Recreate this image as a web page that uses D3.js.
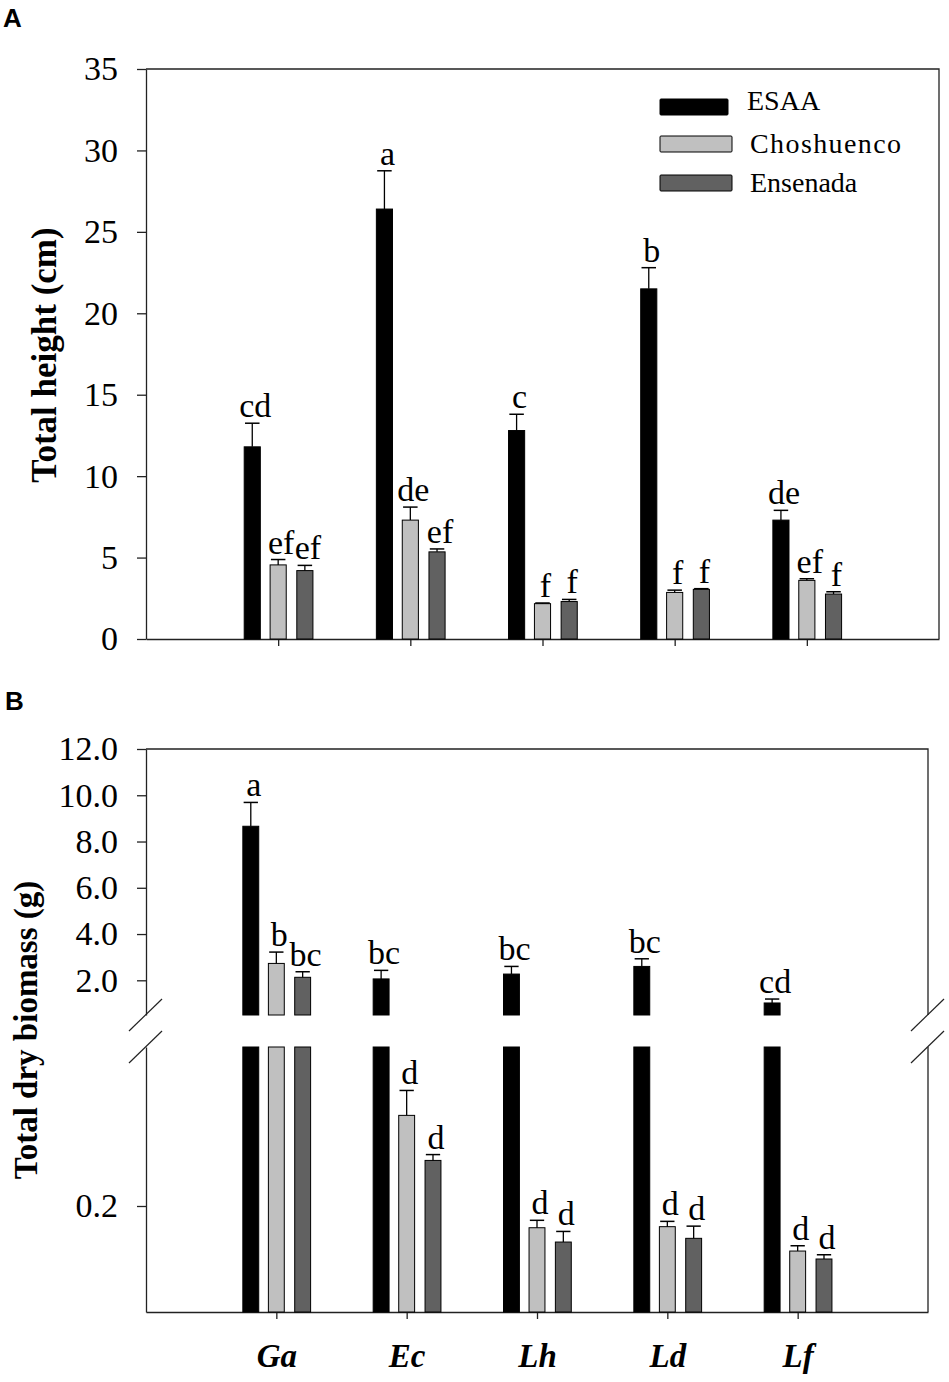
<!DOCTYPE html>
<html>
<head>
<meta charset="utf-8">
<script src="https://cdn.jsdelivr.net/npm/d3@7"></script>
<style>
  body { margin: 0; background: #fff; }
  svg { display: block; font-family: "Liberation Serif", "Times New Roman", serif; }
  .axis text { font-family: "Liberation Serif", "Times New Roman", serif; font-size: 34px; fill: #000; }
  .axis path, .axis line { stroke: #222; stroke-width: 1.3; }
</style>
</head>
<body>
<div id="chart"></div>
<script>
// species (x categories) and provenances (series)
const species = ["Ga", "Ec", "Lh", "Ld", "Lf"];
const provenances = ["ESAA", "Choshuenco", "Ensenada"];
const fills = ["#000000", "#c0c0c0", "#616161"];

// A: total height (cm), mean and SE
const heightESAA = [11.8, 26.4, 12.8, 21.5, 7.3];
const heightESAAse = [1.45, 2.35, 1.0, 1.3, 0.6];
const heightCho = [4.55, 7.3, 2.17, 2.86, 3.6];
const heightChoSe = [0.33, 0.8, 0.04, 0.14, 0.1];
const heightEns = [4.2, 5.35, 2.3, 3.05, 2.76];
const heightEnsSe = [0.32, 0.18, 0.13, 0.04, 0.14];
const heightLetESAA = ["cd", "a", "c", "b", "de"];
const heightLetCho = ["ef", "de", "f", "f", "ef"];
const heightLetEns = ["ef", "ef", "f", "f", "f"];
const heightTicks = [0, 5, 10, 15, 20, 25, 30, 35];

// B: total dry biomass (g), mean and SE
const massESAA = [8.66, 2.06, 2.27, 2.6, 1.02];
const massESAAse = [1.03, 0.37, 0.33, 0.33, 0.17];
const massCho = [2.73, 0.371, 0.159, 0.161, 0.115];
const massChoSe = [0.49, 0.047, 0.014, 0.010, 0.010];
const massEns = [2.13, 0.286, 0.132, 0.139, 0.100];
const massEnsSe = [0.24, 0.011, 0.020, 0.023, 0.008];
const massLetESAA = ["a", "bc", "bc", "bc", "cd"];
const massLetCho = ["b", "d", "d", "d", "d"];
const massLetEns = ["bc", "d", "d", "d", "d"];
const massTicksUp = [2, 4, 6, 8, 10, 12];
const massTicksLo = [0.2];
const massBreak = 0.5;

function rows(means, ses, lets) {
  let out = [];
  species.forEach(function(s, i) {
    provenances.forEach(function(p, j) {
      out.push({ sp: s, i: i, g: j, v: means[j][i], se: ses[j][i], lab: lets[j][i] });
    });
  });
  return out;
}

const svg = d3.select("#chart").append("svg")
  .attr("width", 949).attr("height", 1382);

const offs = [-0.196, 0, 0.202];
const barFrac = 0.122;

// ---------- panel A ----------
const xA = d3.scaleLinear().domain([0, 6]).range([146, 939]);
const yA = d3.scaleLinear().domain([0, 35]).range([639, 69]);
const stepA = xA(1) - xA(0);
const dataA = rows([heightESAA, heightCho, heightEns],
                   [heightESAAse, heightChoSe, heightEnsSe],
                   [heightLetESAA, heightLetCho, heightLetEns]);

svg.append("text").attr("x", 3).attr("y", 27)
  .style("font-family", "Liberation Sans, Arial, sans-serif")
  .style("font-weight", "bold").style("font-size", "26px").text("A");

svg.append("g").attr("class", "axis")
  .attr("transform", "translate(146,0)")
  .call(d3.axisLeft(yA).tickValues(heightTicks).tickSize(9).tickSizeOuter(0).tickPadding(19));

svg.append("g").attr("class", "axis")
  .attr("transform", "translate(0,639)")
  .call(d3.axisBottom(xA).tickValues([1, 2, 3, 4, 5]).tickSize(7).tickSizeOuter(0).tickFormat(""));

// frame top/right
svg.append("path")
  .attr("d", "M" + xA(0) + "," + yA(35) + "H" + xA(6) + "V" + yA(0))
  .attr("fill", "none").attr("stroke", "#222").attr("stroke-width", 1.3);

const gA = svg.append("g");
gA.selectAll("rect").data(dataA).enter().append("rect")
  .attr("x", d => xA(d.i + 1) + offs[d.g] * stepA - barFrac * stepA / 2)
  .attr("width", barFrac * stepA)
  .attr("y", d => yA(d.v))
  .attr("height", d => yA(0) - yA(d.v))
  .attr("fill", d => fills[d.g])
  .attr("stroke", "#000").attr("stroke-width", 1);

function errBars(g, data, x, step, yFn) {
  data.forEach(function(d) {
    const cx = x(d.i + 1) + offs[d.g] * step;
    const y0 = yFn(d.v), y1 = yFn(d.v + d.se);
    const hw = barFrac * step * 0.45;
    g.append("line").attr("x1", cx).attr("x2", cx).attr("y1", y0).attr("y2", y1)
      .attr("stroke", "#000").attr("stroke-width", 1.3);
    g.append("line").attr("x1", cx - hw).attr("x2", cx + hw).attr("y1", y1).attr("y2", y1)
      .attr("stroke", "#000").attr("stroke-width", 1.5);
    g.append("text").attr("x", cx + 3).attr("y", y1 - 6)
      .attr("text-anchor", "middle").style("font-size", "34px")
      .text(d.lab);
  });
}
errBars(gA, dataA, xA, stepA, yA);

svg.append("text")
  .attr("transform", "translate(56,355) rotate(-90)")
  .attr("text-anchor", "middle")
  .style("font-weight", "bold").style("font-size", "35px")
  .text("Total height (cm)");

// legend
const leg = svg.append("g");
const legY = [99, 136, 175];
const legTextY = [110, 153, 192];
provenances.forEach(function(p, j) {
  leg.append("rect").attr("x", 660).attr("y", legY[j])
    .attr("width", j == 0 ? 68 : 72).attr("height", 16).attr("rx", 1)
    .attr("fill", fills[j]).attr("stroke", "#000").attr("stroke-width", 1);
  leg.append("text").attr("x", j == 0 ? 747 : 750).attr("y", legTextY[j])
    .style("font-size", "28px")
    .style("letter-spacing", j == 1 ? "1.4px" : "0px")
    .text(p);
});

// ---------- panel B (broken axis) ----------
const xB = d3.scaleLinear().domain([0, 6]).range([146, 928]);
const yUp = d3.scaleLinear().domain([massBreak, 12]).range([1015, 749]);
const yLo = d3.scaleLinear().domain([0, massBreak]).range([1312, 1047]);
const stepB = xB(1) - xB(0);
const dataB = rows([massESAA, massCho, massEns],
                   [massESAAse, massChoSe, massEnsSe],
                   [massLetESAA, massLetCho, massLetEns]);
const yB = v => v > massBreak ? yUp(v) : yLo(v);

svg.append("text").attr("x", 5).attr("y", 710)
  .style("font-family", "Liberation Sans, Arial, sans-serif")
  .style("font-weight", "bold").style("font-size", "26px").text("B");

svg.append("g").attr("class", "axis")
  .attr("transform", "translate(146,0)")
  .call(d3.axisLeft(yUp).tickValues(massTicksUp).tickFormat(d3.format(".1f"))
    .tickSize(9).tickSizeOuter(0).tickPadding(19));
svg.append("g").attr("class", "axis")
  .attr("transform", "translate(146,0)")
  .call(d3.axisLeft(yLo).tickValues(massTicksLo).tickFormat(d3.format(".1f"))
    .tickSize(9).tickSizeOuter(0).tickPadding(19));

const xAxB = svg.append("g").attr("class", "axis")
  .attr("transform", "translate(0,1312)")
  .call(d3.axisBottom(xB).tickValues([1, 2, 3, 4, 5]).tickSize(7).tickSizeOuter(0)
    .tickPadding(25).tickFormat(d => species[d - 1]));
xAxB.selectAll("text").style("font-weight", "bold").style("font-style", "italic")
  .style("font-size", "33px");

svg.append("path")
  .attr("d", "M" + xB(0) + "," + yUp(12) + "H" + xB(6) + "V" + yUp(massBreak)
    + "M" + xB(6) + "," + yLo(massBreak) + "V" + yLo(0))
  .attr("fill", "none").attr("stroke", "#222").attr("stroke-width", 1.3);

// break marks
[xB(0), xB(6)].forEach(function(bx) {
  [yUp(massBreak), yLo(massBreak)].forEach(function(by) {
    svg.append("line").attr("x1", bx - 17).attr("y1", by + 16)
      .attr("x2", bx + 16).attr("y2", by - 16)
      .attr("stroke", "#222").attr("stroke-width", 1.2);
  });
});

const gB = svg.append("g");
dataB.forEach(function(d) {
  const x0 = xB(d.i + 1) + offs[d.g] * stepB - barFrac * stepB / 2;
  const w = barFrac * stepB;
  const lowTop = d.v > massBreak ? yLo(massBreak) : yLo(d.v);
  gB.append("rect").attr("x", x0).attr("width", w)
    .attr("y", lowTop).attr("height", yLo(0) - lowTop)
    .attr("fill", fills[d.g]).attr("stroke", "#000").attr("stroke-width", 1);
  if (d.v > massBreak) {
    gB.append("rect").attr("x", x0).attr("width", w)
      .attr("y", yUp(d.v)).attr("height", yUp(massBreak) - yUp(d.v))
      .attr("fill", fills[d.g]).attr("stroke", "#000").attr("stroke-width", 1);
  }
});
errBars(gB, dataB, xB, stepB, yB);

svg.append("text")
  .attr("transform", "translate(37,1030) rotate(-90)")
  .attr("text-anchor", "middle")
  .style("font-weight", "bold").style("font-size", "33px")
  .text("Total dry biomass (g)");
</script>
</body>
</html>
